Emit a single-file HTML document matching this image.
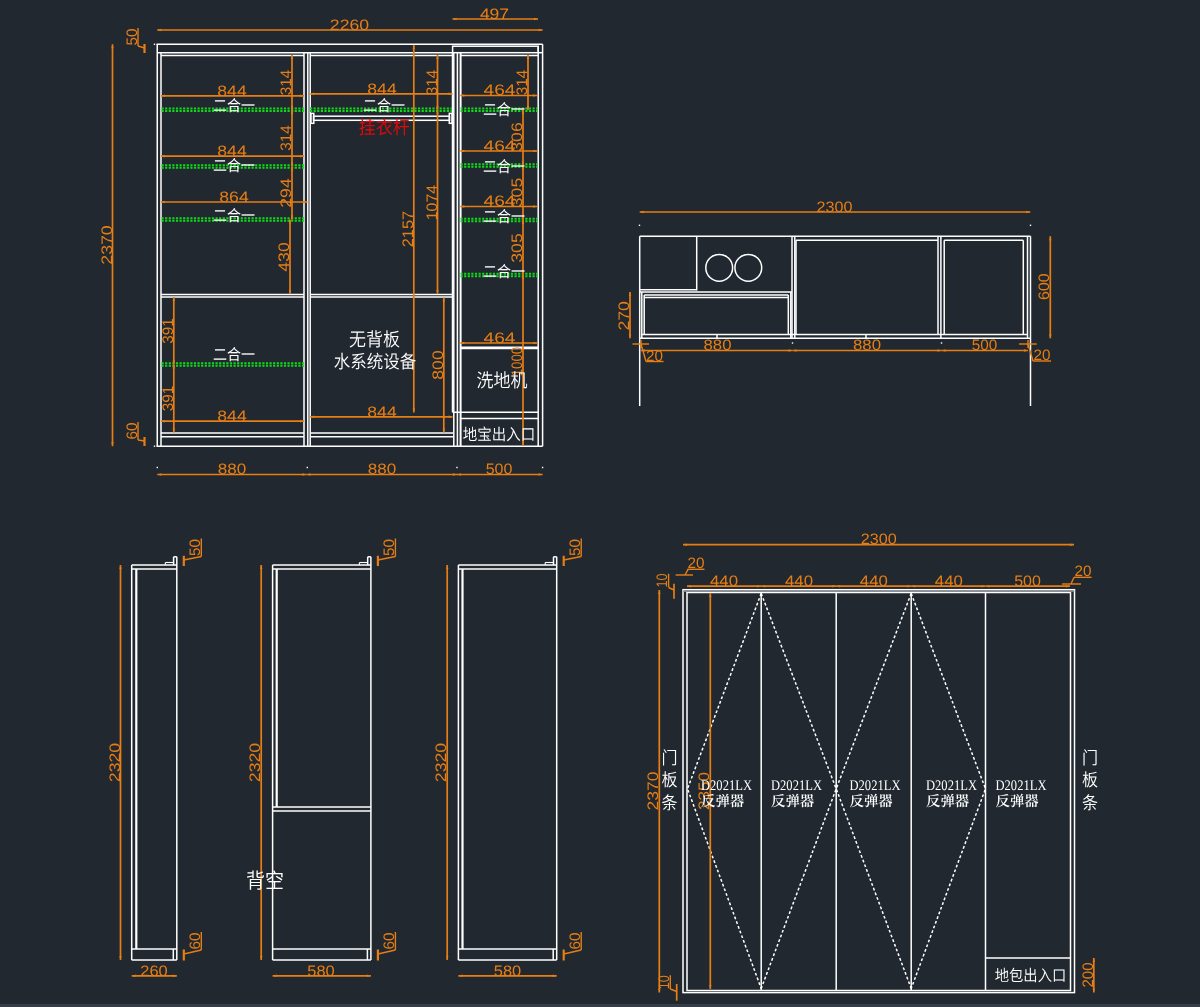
<!DOCTYPE html>
<html lang="zh">
<head>
<meta charset="utf-8">
<title>柜体图纸</title>
<style>
html,body{margin:0;padding:0;background:#212830;}
body{width:1200px;height:1007px;overflow:hidden;position:relative;}
svg{display:block;position:absolute;left:0;top:0;will-change:transform;}
.bar{position:absolute;left:0;top:1003.5px;width:1200px;height:3.5px;background:#353d49;}
text{white-space:pre;text-rendering:geometricPrecision;}
</style>
</head>
<body>
<svg width="1200" height="1007" viewBox="0 0 1200 1007">
<rect x="0" y="0" width="1200" height="1007" fill="#212830"/>
<line x1="156.5" y1="44.3" x2="542.6" y2="44.3" stroke="#ffffff" stroke-width="1.5"/>
<line x1="157.25" y1="44.3" x2="157.25" y2="446.2" stroke="#ffffff" stroke-width="1.5"/>
<line x1="157.25" y1="52.7" x2="452.6" y2="52.7" stroke="#ffffff" stroke-width="1.5"/>
<line x1="161" y1="55.4" x2="304" y2="55.4" stroke="#ffffff" stroke-width="1.5"/>
<line x1="310.2" y1="55.4" x2="452.6" y2="55.4" stroke="#ffffff" stroke-width="1.5"/>
<line x1="161" y1="52.7" x2="161" y2="446.2" stroke="#ffffff" stroke-width="1.5"/>
<line x1="304" y1="52.7" x2="304" y2="446.2" stroke="#ffffff" stroke-width="1.5"/>
<line x1="307.8" y1="52.7" x2="307.8" y2="446.2" stroke="#ffffff" stroke-width="1.5"/>
<line x1="310.2" y1="52.7" x2="310.2" y2="446.2" stroke="#ffffff" stroke-width="1.5"/>
<rect x="452.6" y="46.2" width="85.6" height="6.5" fill="none" stroke="#ffffff" stroke-width="1.5"/>
<line x1="542.6" y1="44.3" x2="542.6" y2="446.2" stroke="#ffffff" stroke-width="1.5"/>
<line x1="538.2" y1="46.2" x2="538.2" y2="446.2" stroke="#ffffff" stroke-width="1.5"/>
<line x1="460.4" y1="55.4" x2="538.2" y2="55.4" stroke="#ffffff" stroke-width="1.5"/>
<line x1="538.2" y1="52.7" x2="542.6" y2="52.7" stroke="#ffffff" stroke-width="1.5"/>
<line x1="452.5" y1="52.7" x2="452.5" y2="412.3" stroke="#ffffff" stroke-width="1.5"/>
<line x1="453.8" y1="52.7" x2="453.8" y2="446.2" stroke="#ffffff" stroke-width="1.5"/>
<line x1="457.4" y1="52.7" x2="457.4" y2="446.2" stroke="#ffffff" stroke-width="1.5"/>
<line x1="460.6" y1="52.7" x2="460.6" y2="446.2" stroke="#ffffff" stroke-width="2.0"/>
<line x1="161" y1="294.4" x2="304" y2="294.4" stroke="#ffffff" stroke-width="1.5"/>
<line x1="161" y1="297" x2="304" y2="297" stroke="#ffffff" stroke-width="1.5"/>
<line x1="310.2" y1="294.4" x2="452.6" y2="294.4" stroke="#ffffff" stroke-width="1.5"/>
<line x1="310.2" y1="297" x2="452.6" y2="297" stroke="#ffffff" stroke-width="1.5"/>
<line x1="161" y1="433" x2="304" y2="433" stroke="#ffffff" stroke-width="1.5"/>
<line x1="161" y1="436.8" x2="304" y2="436.8" stroke="#ffffff" stroke-width="1.5"/>
<line x1="310.2" y1="433" x2="453" y2="433" stroke="#ffffff" stroke-width="1.5"/>
<line x1="310.2" y1="436.8" x2="453" y2="436.8" stroke="#ffffff" stroke-width="1.5"/>
<line x1="156.5" y1="446.2" x2="542.6" y2="446.2" stroke="#ffffff" stroke-width="1.5"/>
<rect x="153.8" y="43.6" width="1.4" height="1.4" fill="#fff"/>
<rect x="153.8" y="445.5" width="1.4" height="1.4" fill="#fff"/>
<line x1="460.6" y1="347.2" x2="538.2" y2="347.2" stroke="#ffffff" stroke-width="1.5"/>
<line x1="460.6" y1="348.6" x2="538.2" y2="348.6" stroke="#ffffff" stroke-width="1.5"/>
<line x1="452.5" y1="412.3" x2="538.2" y2="412.3" stroke="#ffffff" stroke-width="1.5"/>
<line x1="460.6" y1="418.5" x2="538.2" y2="418.5" stroke="#ffffff" stroke-width="1.5"/>
<rect x="313.5" y="116.2" width="136.0" height="4.1" fill="none" stroke="#ffffff" stroke-width="1.5"/>
<rect x="311" y="113.4" width="2.8" height="9.9" fill="none" stroke="#ffffff" stroke-width="1.5"/>
<rect x="449.3" y="113.4" width="2.7" height="9.9" fill="none" stroke="#ffffff" stroke-width="1.5"/>
<line x1="161.5" y1="108.55" x2="304.5" y2="108.55" stroke="#10d818" stroke-width="1.9" stroke-dasharray="2.2 1.4"/>
<line x1="161.5" y1="111.05" x2="304.5" y2="111.05" stroke="#10d818" stroke-width="1.9" stroke-dasharray="2.2 1.4"/>
<line x1="161.5" y1="165.25" x2="304.5" y2="165.25" stroke="#10d818" stroke-width="1.9" stroke-dasharray="2.2 1.4"/>
<line x1="161.5" y1="167.75" x2="304.5" y2="167.75" stroke="#10d818" stroke-width="1.9" stroke-dasharray="2.2 1.4"/>
<line x1="161.5" y1="218.25" x2="304.5" y2="218.25" stroke="#10d818" stroke-width="1.9" stroke-dasharray="2.2 1.4"/>
<line x1="161.5" y1="220.75" x2="304.5" y2="220.75" stroke="#10d818" stroke-width="1.9" stroke-dasharray="2.2 1.4"/>
<line x1="161.5" y1="363.25" x2="304.5" y2="363.25" stroke="#10d818" stroke-width="1.9" stroke-dasharray="2.2 1.4"/>
<line x1="161.5" y1="365.75" x2="304.5" y2="365.75" stroke="#10d818" stroke-width="1.9" stroke-dasharray="2.2 1.4"/>
<line x1="310" y1="108.55" x2="452" y2="108.55" stroke="#10d818" stroke-width="1.9" stroke-dasharray="2.2 1.4"/>
<line x1="310" y1="111.05" x2="452" y2="111.05" stroke="#10d818" stroke-width="1.9" stroke-dasharray="2.2 1.4"/>
<line x1="460.5" y1="108.55" x2="537.3" y2="108.55" stroke="#10d818" stroke-width="1.9" stroke-dasharray="2.2 1.4"/>
<line x1="460.5" y1="111.05" x2="537.3" y2="111.05" stroke="#10d818" stroke-width="1.9" stroke-dasharray="2.2 1.4"/>
<line x1="460.5" y1="164.25" x2="537.3" y2="164.25" stroke="#10d818" stroke-width="1.9" stroke-dasharray="2.2 1.4"/>
<line x1="460.5" y1="166.75" x2="537.3" y2="166.75" stroke="#10d818" stroke-width="1.9" stroke-dasharray="2.2 1.4"/>
<line x1="460.5" y1="218.75" x2="537.3" y2="218.75" stroke="#10d818" stroke-width="1.9" stroke-dasharray="2.2 1.4"/>
<line x1="460.5" y1="221.25" x2="537.3" y2="221.25" stroke="#10d818" stroke-width="1.9" stroke-dasharray="2.2 1.4"/>
<line x1="460.5" y1="273.75" x2="537.3" y2="273.75" stroke="#10d818" stroke-width="1.9" stroke-dasharray="2.2 1.4"/>
<line x1="460.5" y1="276.25" x2="537.3" y2="276.25" stroke="#10d818" stroke-width="1.9" stroke-dasharray="2.2 1.4"/>
<line x1="157.3" y1="30" x2="542.6" y2="30" stroke="#e67e14" stroke-width="1.7"/>
<polygon points="157.3,30 161.3,28.8 161.3,31.2" fill="#e67e14"/>
<polygon points="542.6,30 538.6,31.2 538.6,28.8" fill="#e67e14"/>
<text x="349.5" y="29.7" font-family="Liberation Sans, sans-serif" font-size="15.2" fill="#e67e14" text-anchor="middle" textLength="39.3" lengthAdjust="spacingAndGlyphs">2260</text>
<line x1="452.5" y1="19" x2="538" y2="19" stroke="#e67e14" stroke-width="1.7"/>
<polygon points="452.5,19 456.5,17.8 456.5,20.2" fill="#e67e14"/>
<polygon points="538,19 534.0,20.2 534.0,17.8" fill="#e67e14"/>
<text x="494.5" y="18.7" font-family="Liberation Sans, sans-serif" font-size="15.2" fill="#e67e14" text-anchor="middle" textLength="29.2" lengthAdjust="spacingAndGlyphs">497</text>
<line x1="161" y1="95.8" x2="304" y2="95.8" stroke="#e67e14" stroke-width="1.7"/>
<polygon points="161,95.8 165.0,94.6 165.0,97.0" fill="#e67e14"/>
<polygon points="304,95.8 300.0,97.0 300.0,94.6" fill="#e67e14"/>
<text x="232" y="95.5" font-family="Liberation Sans, sans-serif" font-size="15.2" fill="#e67e14" text-anchor="middle" textLength="29.4" lengthAdjust="spacingAndGlyphs">844</text>
<line x1="161" y1="156.2" x2="304" y2="156.2" stroke="#e67e14" stroke-width="1.7"/>
<polygon points="161,156.2 165.0,155.0 165.0,157.4" fill="#e67e14"/>
<polygon points="304,156.2 300.0,157.4 300.0,155.0" fill="#e67e14"/>
<text x="232" y="155.89999999999998" font-family="Liberation Sans, sans-serif" font-size="15.2" fill="#e67e14" text-anchor="middle" textLength="29.4" lengthAdjust="spacingAndGlyphs">844</text>
<line x1="161" y1="421.2" x2="304" y2="421.2" stroke="#e67e14" stroke-width="1.7"/>
<polygon points="161,421.2 165.0,420.0 165.0,422.4" fill="#e67e14"/>
<polygon points="304,421.2 300.0,422.4 300.0,420.0" fill="#e67e14"/>
<text x="232" y="420.9" font-family="Liberation Sans, sans-serif" font-size="15.2" fill="#e67e14" text-anchor="middle" textLength="29.4" lengthAdjust="spacingAndGlyphs">844</text>
<line x1="161" y1="202" x2="307.5" y2="202" stroke="#e67e14" stroke-width="1.7"/>
<polygon points="161,202 165.0,200.8 165.0,203.2" fill="#e67e14"/>
<polygon points="307.5,202 303.5,203.2 303.5,200.8" fill="#e67e14"/>
<text x="234" y="201.7" font-family="Liberation Sans, sans-serif" font-size="15.2" fill="#e67e14" text-anchor="middle" textLength="29.4" lengthAdjust="spacingAndGlyphs">864</text>
<line x1="310.2" y1="93.8" x2="452.5" y2="93.8" stroke="#e67e14" stroke-width="1.7"/>
<polygon points="310.2,93.8 314.2,92.6 314.2,95.0" fill="#e67e14"/>
<polygon points="452.5,93.8 448.5,95.0 448.5,92.6" fill="#e67e14"/>
<text x="382" y="93.5" font-family="Liberation Sans, sans-serif" font-size="15.2" fill="#e67e14" text-anchor="middle" textLength="29.4" lengthAdjust="spacingAndGlyphs">844</text>
<line x1="310.2" y1="416.8" x2="452.5" y2="416.8" stroke="#e67e14" stroke-width="1.7"/>
<polygon points="310.2,416.8 314.2,415.6 314.2,418.0" fill="#e67e14"/>
<polygon points="452.5,416.8 448.5,418.0 448.5,415.6" fill="#e67e14"/>
<text x="382" y="416.5" font-family="Liberation Sans, sans-serif" font-size="15.2" fill="#e67e14" text-anchor="middle" textLength="29.4" lengthAdjust="spacingAndGlyphs">844</text>
<line x1="460.3" y1="95.5" x2="537.3" y2="95.5" stroke="#e67e14" stroke-width="1.7"/>
<polygon points="460.3,95.5 464.3,94.3 464.3,96.7" fill="#e67e14"/>
<polygon points="537.3,95.5 533.3,96.7 533.3,94.3" fill="#e67e14"/>
<text x="499.5" y="95.2" font-family="Liberation Sans, sans-serif" font-size="15.2" fill="#e67e14" text-anchor="middle" textLength="32" lengthAdjust="spacingAndGlyphs">464</text>
<line x1="460.3" y1="151" x2="537.3" y2="151" stroke="#e67e14" stroke-width="1.7"/>
<polygon points="460.3,151 464.3,149.8 464.3,152.2" fill="#e67e14"/>
<polygon points="537.3,151 533.3,152.2 533.3,149.8" fill="#e67e14"/>
<text x="499.5" y="150.7" font-family="Liberation Sans, sans-serif" font-size="15.2" fill="#e67e14" text-anchor="middle" textLength="32" lengthAdjust="spacingAndGlyphs">464</text>
<line x1="460.3" y1="206.5" x2="537.3" y2="206.5" stroke="#e67e14" stroke-width="1.7"/>
<polygon points="460.3,206.5 464.3,205.3 464.3,207.7" fill="#e67e14"/>
<polygon points="537.3,206.5 533.3,207.7 533.3,205.3" fill="#e67e14"/>
<text x="499.5" y="206.2" font-family="Liberation Sans, sans-serif" font-size="15.2" fill="#e67e14" text-anchor="middle" textLength="32" lengthAdjust="spacingAndGlyphs">464</text>
<line x1="460.3" y1="343" x2="537.3" y2="343" stroke="#e67e14" stroke-width="1.7"/>
<polygon points="460.3,343 464.3,341.8 464.3,344.2" fill="#e67e14"/>
<polygon points="537.3,343 533.3,344.2 533.3,341.8" fill="#e67e14"/>
<text x="499.5" y="342.7" font-family="Liberation Sans, sans-serif" font-size="15.2" fill="#e67e14" text-anchor="middle" textLength="32" lengthAdjust="spacingAndGlyphs">464</text>
<line x1="157.3" y1="474.5" x2="306.5" y2="474.5" stroke="#e67e14" stroke-width="1.7"/>
<polygon points="157.3,474.5 161.3,473.3 161.3,475.7" fill="#e67e14"/>
<polygon points="306.5,474.5 302.5,475.7 302.5,473.3" fill="#e67e14"/>
<text x="232" y="474.2" font-family="Liberation Sans, sans-serif" font-size="15.2" fill="#e67e14" text-anchor="middle" textLength="28.5" lengthAdjust="spacingAndGlyphs">880</text>
<line x1="306.5" y1="474.5" x2="457" y2="474.5" stroke="#e67e14" stroke-width="1.7"/>
<polygon points="306.5,474.5 310.5,473.3 310.5,475.7" fill="#e67e14"/>
<polygon points="457,474.5 453.0,475.7 453.0,473.3" fill="#e67e14"/>
<text x="382" y="474.2" font-family="Liberation Sans, sans-serif" font-size="15.2" fill="#e67e14" text-anchor="middle" textLength="28.5" lengthAdjust="spacingAndGlyphs">880</text>
<line x1="457" y1="474.5" x2="542.6" y2="474.5" stroke="#e67e14" stroke-width="1.7"/>
<polygon points="457,474.5 461.0,473.3 461.0,475.7" fill="#e67e14"/>
<polygon points="542.6,474.5 538.6,475.7 538.6,473.3" fill="#e67e14"/>
<text x="499" y="474.2" font-family="Liberation Sans, sans-serif" font-size="15.2" fill="#e67e14" text-anchor="middle" textLength="26.7" lengthAdjust="spacingAndGlyphs">500</text>
<rect x="156.60000000000002" y="466.8" width="1.4" height="1.4" fill="#fff"/>
<rect x="306.6" y="466.8" width="1.4" height="1.4" fill="#fff"/>
<rect x="456.3" y="466.8" width="1.4" height="1.4" fill="#fff"/>
<rect x="541.9" y="466.8" width="1.4" height="1.4" fill="#fff"/>
<line x1="112.5" y1="44.3" x2="112.5" y2="446.2" stroke="#e67e14" stroke-width="1.7"/>
<polygon points="112.5,44.3 113.7,48.3 111.3,48.3" fill="#e67e14"/>
<polygon points="112.5,446.2 111.3,442.2 113.7,442.2" fill="#e67e14"/>
<text x="111.5" y="245" font-family="Liberation Sans, sans-serif" font-size="15.2" fill="#e67e14" text-anchor="middle" textLength="39.4" lengthAdjust="spacingAndGlyphs" transform="rotate(-90 111.5 245)">2370</text>
<line x1="292" y1="55" x2="292" y2="110" stroke="#e67e14" stroke-width="1.7"/>
<polygon points="292,55 293.2,59.0 290.8,59.0" fill="#e67e14"/>
<polygon points="292,110 290.8,106.0 293.2,106.0" fill="#e67e14"/>
<text x="291.0" y="82.5" font-family="Liberation Sans, sans-serif" font-size="15.2" fill="#e67e14" text-anchor="middle" textLength="25.6" lengthAdjust="spacingAndGlyphs" transform="rotate(-90 291.0 82.5)">314</text>
<line x1="292" y1="110" x2="292" y2="166.5" stroke="#e67e14" stroke-width="1.7"/>
<polygon points="292,110 293.2,114.0 290.8,114.0" fill="#e67e14"/>
<polygon points="292,166.5 290.8,162.5 293.2,162.5" fill="#e67e14"/>
<text x="291.0" y="138" font-family="Liberation Sans, sans-serif" font-size="15.2" fill="#e67e14" text-anchor="middle" textLength="25.6" lengthAdjust="spacingAndGlyphs" transform="rotate(-90 291.0 138)">314</text>
<line x1="292" y1="166.5" x2="292" y2="219.5" stroke="#e67e14" stroke-width="1.7"/>
<polygon points="292,166.5 293.2,170.5 290.8,170.5" fill="#e67e14"/>
<polygon points="292,219.5 290.8,215.5 293.2,215.5" fill="#e67e14"/>
<text x="291.0" y="193" font-family="Liberation Sans, sans-serif" font-size="15.2" fill="#e67e14" text-anchor="middle" textLength="29.4" lengthAdjust="spacingAndGlyphs" transform="rotate(-90 291.0 193)">294</text>
<line x1="290" y1="219.5" x2="290" y2="294" stroke="#e67e14" stroke-width="1.7"/>
<polygon points="290,219.5 291.2,223.5 288.8,223.5" fill="#e67e14"/>
<polygon points="290,294 288.8,290.0 291.2,290.0" fill="#e67e14"/>
<text x="289.0" y="257" font-family="Liberation Sans, sans-serif" font-size="15.2" fill="#e67e14" text-anchor="middle" textLength="29.4" lengthAdjust="spacingAndGlyphs" transform="rotate(-90 289.0 257)">430</text>
<line x1="173.8" y1="297" x2="173.8" y2="364.5" stroke="#e67e14" stroke-width="1.7"/>
<polygon points="173.8,297 175.0,301.0 172.6,301.0" fill="#e67e14"/>
<polygon points="173.8,364.5 172.6,360.5 175.0,360.5" fill="#e67e14"/>
<text x="172.8" y="331" font-family="Liberation Sans, sans-serif" font-size="15.2" fill="#e67e14" text-anchor="middle" textLength="25.6" lengthAdjust="spacingAndGlyphs" transform="rotate(-90 172.8 331)">391</text>
<line x1="173.8" y1="364.5" x2="173.8" y2="432.5" stroke="#e67e14" stroke-width="1.7"/>
<polygon points="173.8,364.5 175.0,368.5 172.6,368.5" fill="#e67e14"/>
<polygon points="173.8,432.5 172.6,428.5 175.0,428.5" fill="#e67e14"/>
<text x="172.8" y="398.5" font-family="Liberation Sans, sans-serif" font-size="15.2" fill="#e67e14" text-anchor="middle" textLength="25.6" lengthAdjust="spacingAndGlyphs" transform="rotate(-90 172.8 398.5)">391</text>
<line x1="413.8" y1="45" x2="413.8" y2="412.5" stroke="#e67e14" stroke-width="1.7"/>
<polygon points="413.8,45 415.0,49.0 412.6,49.0" fill="#e67e14"/>
<polygon points="413.8,412.5 412.6,408.5 415.0,408.5" fill="#e67e14"/>
<text x="412.8" y="229" font-family="Liberation Sans, sans-serif" font-size="15.2" fill="#e67e14" text-anchor="middle" textLength="36.5" lengthAdjust="spacingAndGlyphs" transform="rotate(-90 412.8 229)">2157</text>
<line x1="437.5" y1="55" x2="437.5" y2="110" stroke="#e67e14" stroke-width="1.7"/>
<polygon points="437.5,55 438.7,59.0 436.3,59.0" fill="#e67e14"/>
<polygon points="437.5,110 436.3,106.0 438.7,106.0" fill="#e67e14"/>
<text x="436.5" y="82.5" font-family="Liberation Sans, sans-serif" font-size="15.2" fill="#e67e14" text-anchor="middle" textLength="25.6" lengthAdjust="spacingAndGlyphs" transform="rotate(-90 436.5 82.5)">314</text>
<line x1="437.5" y1="110" x2="437.5" y2="294" stroke="#e67e14" stroke-width="1.7"/>
<polygon points="437.5,110 438.7,114.0 436.3,114.0" fill="#e67e14"/>
<polygon points="437.5,294 436.3,290.0 438.7,290.0" fill="#e67e14"/>
<text x="436.5" y="202.5" font-family="Liberation Sans, sans-serif" font-size="15.2" fill="#e67e14" text-anchor="middle" textLength="35.5" lengthAdjust="spacingAndGlyphs" transform="rotate(-90 436.5 202.5)">1074</text>
<line x1="443.8" y1="297.5" x2="443.8" y2="432.5" stroke="#e67e14" stroke-width="1.7"/>
<polygon points="443.8,297.5 445.0,301.5 442.6,301.5" fill="#e67e14"/>
<polygon points="443.8,432.5 442.6,428.5 445.0,428.5" fill="#e67e14"/>
<text x="442.8" y="365" font-family="Liberation Sans, sans-serif" font-size="15.2" fill="#e67e14" text-anchor="middle" textLength="29.4" lengthAdjust="spacingAndGlyphs" transform="rotate(-90 442.8 365)">800</text>
<line x1="528" y1="55" x2="528" y2="110" stroke="#e67e14" stroke-width="1.7"/>
<polygon points="528,55 529.2,59.0 526.8,59.0" fill="#e67e14"/>
<polygon points="528,110 526.8,106.0 529.2,106.0" fill="#e67e14"/>
<text x="527.0" y="82.5" font-family="Liberation Sans, sans-serif" font-size="15.2" fill="#e67e14" text-anchor="middle" textLength="25.6" lengthAdjust="spacingAndGlyphs" transform="rotate(-90 527.0 82.5)">314</text>
<line x1="523" y1="110" x2="523" y2="165.5" stroke="#e67e14" stroke-width="1.7"/>
<polygon points="523,110 524.2,114.0 521.8,114.0" fill="#e67e14"/>
<polygon points="523,165.5 521.8,161.5 524.2,161.5" fill="#e67e14"/>
<text x="522.0" y="137" font-family="Liberation Sans, sans-serif" font-size="15.2" fill="#e67e14" text-anchor="middle" textLength="29.4" lengthAdjust="spacingAndGlyphs" transform="rotate(-90 522.0 137)">306</text>
<line x1="523" y1="165.5" x2="523" y2="220" stroke="#e67e14" stroke-width="1.7"/>
<polygon points="523,165.5 524.2,169.5 521.8,169.5" fill="#e67e14"/>
<polygon points="523,220 521.8,216.0 524.2,216.0" fill="#e67e14"/>
<text x="522.0" y="192.5" font-family="Liberation Sans, sans-serif" font-size="15.2" fill="#e67e14" text-anchor="middle" textLength="29.4" lengthAdjust="spacingAndGlyphs" transform="rotate(-90 522.0 192.5)">305</text>
<line x1="523" y1="220" x2="523" y2="275" stroke="#e67e14" stroke-width="1.7"/>
<polygon points="523,220 524.2,224.0 521.8,224.0" fill="#e67e14"/>
<polygon points="523,275 521.8,271.0 524.2,271.0" fill="#e67e14"/>
<text x="522.0" y="248" font-family="Liberation Sans, sans-serif" font-size="15.2" fill="#e67e14" text-anchor="middle" textLength="29.4" lengthAdjust="spacingAndGlyphs" transform="rotate(-90 522.0 248)">305</text>
<line x1="523" y1="275" x2="523" y2="445.8" stroke="#e67e14" stroke-width="1.7"/>
<polygon points="523,275 524.2,279.0 521.8,279.0" fill="#e67e14"/>
<polygon points="523,445.8 521.8,441.8 524.2,441.8" fill="#e67e14"/>
<text x="522.0" y="361.5" font-family="Liberation Sans, sans-serif" font-size="15.2" fill="#e67e14" text-anchor="middle" textLength="29.5" lengthAdjust="spacingAndGlyphs" transform="rotate(-90 522.0 361.5)">1000</text>
<text x="136.5" y="37" font-family="Liberation Sans, sans-serif" font-size="15.2" fill="#e67e14" text-anchor="middle" textLength="17" lengthAdjust="spacingAndGlyphs" transform="rotate(-90 136.5 37)">50</text>
<line x1="138.0" y1="28" x2="138.0" y2="46" stroke="#e67e14" stroke-width="1.4"/>
<line x1="138.0" y1="46" x2="144.5" y2="48" stroke="#e67e14" stroke-width="1.4"/>
<line x1="144.5" y1="44" x2="144.5" y2="53" stroke="#e67e14" stroke-width="2.2"/>
<text x="136.5" y="431" font-family="Liberation Sans, sans-serif" font-size="15.2" fill="#e67e14" text-anchor="middle" textLength="17" lengthAdjust="spacingAndGlyphs" transform="rotate(-90 136.5 431)">60</text>
<line x1="138.0" y1="422" x2="138.0" y2="440" stroke="#e67e14" stroke-width="1.4"/>
<line x1="138.0" y1="440" x2="144.5" y2="441" stroke="#e67e14" stroke-width="1.4"/>
<line x1="144.5" y1="437" x2="144.5" y2="446" stroke="#e67e14" stroke-width="2.2"/>
<text x="234" y="111" font-family="Liberation Sans, Noto Sans CJK SC, sans-serif" font-size="14" fill="#ffffff" text-anchor="middle" font-weight="400" transform="matrix(1 0 0 1.1 0 -11.1)">二合一</text>
<text x="234" y="171" font-family="Liberation Sans, Noto Sans CJK SC, sans-serif" font-size="14" fill="#ffffff" text-anchor="middle" font-weight="400" transform="matrix(1 0 0 1.1 0 -17.1)">二合一</text>
<text x="234" y="221" font-family="Liberation Sans, Noto Sans CJK SC, sans-serif" font-size="14" fill="#ffffff" text-anchor="middle" font-weight="400" transform="matrix(1 0 0 1.1 0 -22.1)">二合一</text>
<text x="234" y="359.7" font-family="Liberation Sans, Noto Sans CJK SC, sans-serif" font-size="14" fill="#ffffff" text-anchor="middle" font-weight="400" transform="matrix(1 0 0 1.1 0 -35.97)">二合一</text>
<text x="384" y="111" font-family="Liberation Sans, Noto Sans CJK SC, sans-serif" font-size="14" fill="#ffffff" text-anchor="middle" font-weight="400" transform="matrix(1 0 0 1.1 0 -11.1)">二合一</text>
<text x="504" y="115" font-family="Liberation Sans, Noto Sans CJK SC, sans-serif" font-size="14" fill="#ffffff" text-anchor="middle" font-weight="400" transform="matrix(1 0 0 1.1 0 -11.5)">二合一</text>
<text x="504" y="172" font-family="Liberation Sans, Noto Sans CJK SC, sans-serif" font-size="14" fill="#ffffff" text-anchor="middle" font-weight="400" transform="matrix(1 0 0 1.1 0 -17.2)">二合一</text>
<text x="504" y="222" font-family="Liberation Sans, Noto Sans CJK SC, sans-serif" font-size="14" fill="#ffffff" text-anchor="middle" font-weight="400" transform="matrix(1 0 0 1.1 0 -22.2)">二合一</text>
<text x="504" y="277" font-family="Liberation Sans, Noto Sans CJK SC, sans-serif" font-size="14" fill="#ffffff" text-anchor="middle" font-weight="400" transform="matrix(1 0 0 1.1 0 -27.7)">二合一</text>
<text x="384.3" y="134.2" font-family="Liberation Sans, Noto Sans CJK SC, sans-serif" font-size="17" fill="#de0a0a" text-anchor="middle" font-weight="400" transform="matrix(1 0 0 1.1 0 -13.42)">挂衣杆</text>
<text x="374.5" y="346" font-family="Liberation Sans, Noto Sans CJK SC, sans-serif" font-size="17" fill="#ffffff" text-anchor="middle" font-weight="350" transform="matrix(1 0 0 1.1 0 -34.6)">无背板</text>
<text x="375" y="367.5" font-family="Liberation Sans, Noto Sans CJK SC, sans-serif" font-size="16.5" fill="#ffffff" text-anchor="middle" font-weight="350" transform="matrix(1 0 0 1.1 0 -36.75)">水系统设备</text>
<text x="502" y="387" font-family="Liberation Sans, Noto Sans CJK SC, sans-serif" font-size="17" fill="#ffffff" text-anchor="middle" font-weight="350" transform="matrix(1 0 0 1.1 0 -38.7)">洗地机</text>
<text x="499" y="439.5" font-family="Liberation Sans, Noto Sans CJK SC, sans-serif" font-size="14.5" fill="#ffffff" text-anchor="middle" font-weight="350" transform="matrix(1 0 0 1.1 0 -43.95)">地宝出入口</text>
<line x1="639.7" y1="212" x2="1030.3" y2="212" stroke="#e67e14" stroke-width="1.7"/>
<polygon points="639.7,212 643.7,210.8 643.7,213.2" fill="#e67e14"/>
<polygon points="1030.3,212 1026.3,213.2 1026.3,210.8" fill="#e67e14"/>
<text x="834.5" y="211.7" font-family="Liberation Sans, sans-serif" font-size="15.2" fill="#e67e14" text-anchor="middle" textLength="36" lengthAdjust="spacingAndGlyphs">2300</text>
<rect x="638.8" y="224.60000000000002" width="1.4" height="1.4" fill="#fff"/>
<rect x="1029.8" y="224.60000000000002" width="1.4" height="1.4" fill="#fff"/>
<rect x="791.8" y="342.3" width="1.4" height="1.4" fill="#fff"/>
<rect x="940.8" y="342.3" width="1.4" height="1.4" fill="#fff"/>
<line x1="639.7" y1="236.2" x2="1030.5" y2="236.2" stroke="#ffffff" stroke-width="1.5"/>
<line x1="639.7" y1="236.2" x2="639.7" y2="406" stroke="#ffffff" stroke-width="1.5"/>
<line x1="1030.5" y1="236.2" x2="1030.5" y2="406" stroke="#ffffff" stroke-width="1.5"/>
<line x1="696.7" y1="236.2" x2="696.7" y2="290.5" stroke="#ffffff" stroke-width="1.5"/>
<line x1="639.7" y1="289.8" x2="696.7" y2="289.8" stroke="#ffffff" stroke-width="1.5"/>
<line x1="639.7" y1="292" x2="792" y2="292" stroke="#ffffff" stroke-width="1.5"/>
<circle cx="719.2" cy="267.8" r="13.4" fill="none" stroke="#fff" stroke-width="1.5"/>
<circle cx="748.3" cy="267.8" r="13.4" fill="none" stroke="#fff" stroke-width="1.5"/>
<line x1="792" y1="236.2" x2="792" y2="338.3" stroke="#ffffff" stroke-width="1.5"/>
<line x1="794.8" y1="236.2" x2="794.8" y2="338.3" stroke="#ffffff" stroke-width="1.5"/>
<line x1="796" y1="240.3" x2="796" y2="334.5" stroke="#ffffff" stroke-width="1.5"/>
<line x1="641.8" y1="292" x2="641.8" y2="338.3" stroke="#ffffff" stroke-width="1.5"/>
<line x1="644.2" y1="295" x2="644.2" y2="334.3" stroke="#ffffff" stroke-width="1.5"/>
<line x1="788.3" y1="295" x2="788.3" y2="334.3" stroke="#ffffff" stroke-width="1.5"/>
<line x1="790.8" y1="292" x2="790.8" y2="338.3" stroke="#ffffff" stroke-width="1.5"/>
<line x1="644.2" y1="295" x2="788.3" y2="295" stroke="#ffffff" stroke-width="1.5"/>
<line x1="644.2" y1="297.5" x2="788.3" y2="297.5" stroke="#ffffff" stroke-width="1.5"/>
<line x1="641.8" y1="334.4" x2="1027.5" y2="334.4" stroke="#ffffff" stroke-width="1.5"/>
<line x1="639.7" y1="338.3" x2="1030.5" y2="338.3" stroke="#ffffff" stroke-width="1.5"/>
<line x1="717" y1="334.4" x2="717" y2="338.3" stroke="#ffffff" stroke-width="1.5"/>
<line x1="866" y1="334.4" x2="866" y2="338.3" stroke="#ffffff" stroke-width="1.5"/>
<line x1="796" y1="240.3" x2="938" y2="240.3" stroke="#ffffff" stroke-width="1.5"/>
<line x1="944.2" y1="240.3" x2="1023.3" y2="240.3" stroke="#ffffff" stroke-width="1.5"/>
<line x1="938" y1="236.2" x2="938" y2="334.4" stroke="#ffffff" stroke-width="1.5"/>
<line x1="940.9" y1="236.2" x2="940.9" y2="338.3" stroke="#ffffff" stroke-width="1.5"/>
<line x1="944.2" y1="240.3" x2="944.2" y2="334.4" stroke="#ffffff" stroke-width="1.5"/>
<line x1="1023.3" y1="240.3" x2="1023.3" y2="334.4" stroke="#ffffff" stroke-width="1.5"/>
<line x1="1027.5" y1="236.2" x2="1027.5" y2="338.3" stroke="#ffffff" stroke-width="1.5"/>
<line x1="630" y1="292" x2="630" y2="338.3" stroke="#e67e14" stroke-width="1.7"/>
<polygon points="630,292 631.2,296.0 628.8,296.0" fill="#e67e14"/>
<polygon points="630,338.3 628.8,334.3 631.2,334.3" fill="#e67e14"/>
<text x="629.0" y="315.8" font-family="Liberation Sans, sans-serif" font-size="15.2" fill="#e67e14" text-anchor="middle" textLength="29.5" lengthAdjust="spacingAndGlyphs" transform="rotate(-90 629.0 315.8)">270</text>
<line x1="1050.3" y1="236.2" x2="1050.3" y2="338.3" stroke="#e67e14" stroke-width="1.7"/>
<polygon points="1050.3,236.2 1051.5,240.2 1049.1,240.2" fill="#e67e14"/>
<polygon points="1050.3,338.3 1049.1,334.3 1051.5,334.3" fill="#e67e14"/>
<text x="1049.3" y="286.7" font-family="Liberation Sans, sans-serif" font-size="15.2" fill="#e67e14" text-anchor="middle" textLength="26.5" lengthAdjust="spacingAndGlyphs" transform="rotate(-90 1049.3 286.7)">600</text>
<line x1="641" y1="350.5" x2="792.5" y2="350.5" stroke="#e67e14" stroke-width="1.7"/>
<polygon points="641,350.5 645.0,349.3 645.0,351.7" fill="#e67e14"/>
<polygon points="792.5,350.5 788.5,351.7 788.5,349.3" fill="#e67e14"/>
<text x="717.5" y="350.2" font-family="Liberation Sans, sans-serif" font-size="15.2" fill="#e67e14" text-anchor="middle" textLength="28" lengthAdjust="spacingAndGlyphs">880</text>
<line x1="792.5" y1="350.5" x2="941.5" y2="350.5" stroke="#e67e14" stroke-width="1.7"/>
<polygon points="792.5,350.5 796.5,349.3 796.5,351.7" fill="#e67e14"/>
<polygon points="941.5,350.5 937.5,351.7 937.5,349.3" fill="#e67e14"/>
<text x="867" y="350.2" font-family="Liberation Sans, sans-serif" font-size="15.2" fill="#e67e14" text-anchor="middle" textLength="28" lengthAdjust="spacingAndGlyphs">880</text>
<line x1="941.5" y1="350.5" x2="1028" y2="350.5" stroke="#e67e14" stroke-width="1.7"/>
<polygon points="941.5,350.5 945.5,349.3 945.5,351.7" fill="#e67e14"/>
<polygon points="1028,350.5 1024.0,351.7 1024.0,349.3" fill="#e67e14"/>
<text x="984.5" y="350.2" font-family="Liberation Sans, sans-serif" font-size="15.2" fill="#e67e14" text-anchor="middle" textLength="25.5" lengthAdjust="spacingAndGlyphs">500</text>
<text x="654.5" y="360.5" font-family="Liberation Sans, sans-serif" font-size="15.2" fill="#e67e14" text-anchor="middle" textLength="17" lengthAdjust="spacingAndGlyphs">20</text>
<line x1="646" y1="361.5" x2="663.5" y2="361.5" stroke="#e67e14" stroke-width="1.4"/>
<line x1="632.5" y1="344" x2="649" y2="344" stroke="#e67e14" stroke-width="1.4"/>
<line x1="641" y1="344" x2="646" y2="361.5" stroke="#e67e14" stroke-width="1.4"/>
<line x1="641" y1="340" x2="641" y2="348" stroke="#e67e14" stroke-width="1.4"/>
<text x="1042" y="360" font-family="Liberation Sans, sans-serif" font-size="15.2" fill="#e67e14" text-anchor="middle" textLength="17" lengthAdjust="spacingAndGlyphs">20</text>
<line x1="1033" y1="361" x2="1051" y2="361" stroke="#e67e14" stroke-width="1.4"/>
<line x1="1019" y1="344" x2="1036.7" y2="344" stroke="#e67e14" stroke-width="1.4"/>
<line x1="1028" y1="344" x2="1033" y2="361" stroke="#e67e14" stroke-width="1.4"/>
<line x1="1028" y1="340" x2="1028" y2="348" stroke="#e67e14" stroke-width="1.4"/>
<line x1="131.7" y1="565" x2="176.8" y2="565" stroke="#ffffff" stroke-width="1.5"/>
<line x1="131.7" y1="569" x2="176.8" y2="569" stroke="#ffffff" stroke-width="1.5"/>
<line x1="131.7" y1="565" x2="131.7" y2="960" stroke="#ffffff" stroke-width="1.5"/>
<line x1="136.3" y1="569" x2="136.3" y2="949" stroke="#ffffff" stroke-width="2.2"/>
<line x1="176.8" y1="556.8" x2="176.8" y2="960" stroke="#ffffff" stroke-width="1.5"/>
<line x1="165.3" y1="562.5" x2="173.60000000000002" y2="562.5" stroke="#ffffff" stroke-width="1.1"/>
<line x1="165.3" y1="562.5" x2="165.3" y2="565" stroke="#ffffff" stroke-width="1.1"/>
<line x1="173.60000000000002" y1="556.8" x2="173.60000000000002" y2="565" stroke="#ffffff" stroke-width="1.5"/>
<line x1="173.60000000000002" y1="556.8" x2="176.8" y2="556.8" stroke="#ffffff" stroke-width="1.5"/>
<line x1="131.7" y1="949" x2="176.8" y2="949" stroke="#ffffff" stroke-width="1.5"/>
<line x1="131.7" y1="960" x2="176.8" y2="960" stroke="#ffffff" stroke-width="1.5"/>
<line x1="173.3" y1="949" x2="173.3" y2="960" stroke="#ffffff" stroke-width="1.5"/>
<line x1="120.5" y1="565" x2="120.5" y2="960" stroke="#e67e14" stroke-width="1.7"/>
<polygon points="120.5,565 121.7,569.0 119.3,569.0" fill="#e67e14"/>
<polygon points="120.5,960 119.3,956.0 121.7,956.0" fill="#e67e14"/>
<text x="119.5" y="762.5" font-family="Liberation Sans, sans-serif" font-size="15.2" fill="#e67e14" text-anchor="middle" textLength="39.3" lengthAdjust="spacingAndGlyphs" transform="rotate(-90 119.5 762.5)">2320</text>
<line x1="131.7" y1="975.8" x2="176.8" y2="975.8" stroke="#e67e14" stroke-width="1.7"/>
<polygon points="131.7,975.8 135.7,974.6 135.7,977.0" fill="#e67e14"/>
<polygon points="176.8,975.8 172.8,977.0 172.8,974.6" fill="#e67e14"/>
<text x="154" y="975.5" font-family="Liberation Sans, sans-serif" font-size="15.2" fill="#e67e14" text-anchor="middle" textLength="27.5" lengthAdjust="spacingAndGlyphs">260</text>
<text x="199.8" y="547.5" font-family="Liberation Sans, sans-serif" font-size="15.2" fill="#e67e14" text-anchor="middle" textLength="17" lengthAdjust="spacingAndGlyphs" transform="rotate(-90 199.8 547.5)">50</text>
<line x1="201.3" y1="538.5" x2="201.3" y2="556.5" stroke="#e67e14" stroke-width="1.4"/>
<line x1="201.3" y1="556.5" x2="183.8" y2="560" stroke="#e67e14" stroke-width="1.4"/>
<line x1="183.8" y1="555.8" x2="183.8" y2="566" stroke="#e67e14" stroke-width="2.2"/>
<text x="199.8" y="941" font-family="Liberation Sans, sans-serif" font-size="15.2" fill="#e67e14" text-anchor="middle" textLength="17" lengthAdjust="spacingAndGlyphs" transform="rotate(-90 199.8 941)">60</text>
<line x1="201.3" y1="932" x2="201.3" y2="950" stroke="#e67e14" stroke-width="1.4"/>
<line x1="201.3" y1="950" x2="183.8" y2="954" stroke="#e67e14" stroke-width="1.4"/>
<line x1="183.8" y1="949.5" x2="183.8" y2="960.5" stroke="#e67e14" stroke-width="2.2"/>
<line x1="272.6" y1="565" x2="370.9" y2="565" stroke="#ffffff" stroke-width="1.5"/>
<line x1="272.6" y1="569" x2="370.9" y2="569" stroke="#ffffff" stroke-width="1.5"/>
<line x1="272.6" y1="565" x2="272.6" y2="960" stroke="#ffffff" stroke-width="1.5"/>
<line x1="276.7" y1="569" x2="276.7" y2="807" stroke="#ffffff" stroke-width="2.2"/>
<line x1="370.9" y1="556.8" x2="370.9" y2="960" stroke="#ffffff" stroke-width="1.5"/>
<line x1="359.4" y1="562.5" x2="367.7" y2="562.5" stroke="#ffffff" stroke-width="1.1"/>
<line x1="359.4" y1="562.5" x2="359.4" y2="565" stroke="#ffffff" stroke-width="1.1"/>
<line x1="367.7" y1="556.8" x2="367.7" y2="565" stroke="#ffffff" stroke-width="1.5"/>
<line x1="367.7" y1="556.8" x2="370.9" y2="556.8" stroke="#ffffff" stroke-width="1.5"/>
<line x1="272.6" y1="949" x2="370.9" y2="949" stroke="#ffffff" stroke-width="1.5"/>
<line x1="272.6" y1="960" x2="370.9" y2="960" stroke="#ffffff" stroke-width="1.5"/>
<line x1="367.4" y1="949" x2="367.4" y2="960" stroke="#ffffff" stroke-width="1.5"/>
<line x1="272.6" y1="807" x2="370.9" y2="807" stroke="#ffffff" stroke-width="1.5"/>
<line x1="272.6" y1="811" x2="370.9" y2="811" stroke="#ffffff" stroke-width="1.5"/>
<line x1="261.2" y1="565" x2="261.2" y2="960" stroke="#e67e14" stroke-width="1.7"/>
<polygon points="261.2,565 262.4,569.0 260.0,569.0" fill="#e67e14"/>
<polygon points="261.2,960 260.0,956.0 262.4,956.0" fill="#e67e14"/>
<text x="260.2" y="762.5" font-family="Liberation Sans, sans-serif" font-size="15.2" fill="#e67e14" text-anchor="middle" textLength="39.3" lengthAdjust="spacingAndGlyphs" transform="rotate(-90 260.2 762.5)">2320</text>
<line x1="272.6" y1="975.8" x2="370.9" y2="975.8" stroke="#e67e14" stroke-width="1.7"/>
<polygon points="272.6,975.8 276.6,974.6 276.6,977.0" fill="#e67e14"/>
<polygon points="370.9,975.8 366.9,977.0 366.9,974.6" fill="#e67e14"/>
<text x="321" y="975.5" font-family="Liberation Sans, sans-serif" font-size="15.2" fill="#e67e14" text-anchor="middle" textLength="27.5" lengthAdjust="spacingAndGlyphs">580</text>
<text x="393.9" y="547.5" font-family="Liberation Sans, sans-serif" font-size="15.2" fill="#e67e14" text-anchor="middle" textLength="17" lengthAdjust="spacingAndGlyphs" transform="rotate(-90 393.9 547.5)">50</text>
<line x1="395.4" y1="538.5" x2="395.4" y2="556.5" stroke="#e67e14" stroke-width="1.4"/>
<line x1="395.4" y1="556.5" x2="377.9" y2="560" stroke="#e67e14" stroke-width="1.4"/>
<line x1="377.9" y1="555.8" x2="377.9" y2="566" stroke="#e67e14" stroke-width="2.2"/>
<text x="393.9" y="941" font-family="Liberation Sans, sans-serif" font-size="15.2" fill="#e67e14" text-anchor="middle" textLength="17" lengthAdjust="spacingAndGlyphs" transform="rotate(-90 393.9 941)">60</text>
<line x1="395.4" y1="932" x2="395.4" y2="950" stroke="#e67e14" stroke-width="1.4"/>
<line x1="395.4" y1="950" x2="377.9" y2="954" stroke="#e67e14" stroke-width="1.4"/>
<line x1="377.9" y1="949.5" x2="377.9" y2="960.5" stroke="#e67e14" stroke-width="2.2"/>
<line x1="458.4" y1="565" x2="556.7" y2="565" stroke="#ffffff" stroke-width="1.5"/>
<line x1="458.4" y1="569" x2="556.7" y2="569" stroke="#ffffff" stroke-width="1.5"/>
<line x1="458.4" y1="565" x2="458.4" y2="960" stroke="#ffffff" stroke-width="1.5"/>
<line x1="462.5" y1="569" x2="462.5" y2="949" stroke="#ffffff" stroke-width="2.2"/>
<line x1="556.7" y1="556.8" x2="556.7" y2="960" stroke="#ffffff" stroke-width="1.5"/>
<line x1="545.2" y1="562.5" x2="553.5" y2="562.5" stroke="#ffffff" stroke-width="1.1"/>
<line x1="545.2" y1="562.5" x2="545.2" y2="565" stroke="#ffffff" stroke-width="1.1"/>
<line x1="553.5" y1="556.8" x2="553.5" y2="565" stroke="#ffffff" stroke-width="1.5"/>
<line x1="553.5" y1="556.8" x2="556.7" y2="556.8" stroke="#ffffff" stroke-width="1.5"/>
<line x1="458.4" y1="949" x2="556.7" y2="949" stroke="#ffffff" stroke-width="1.5"/>
<line x1="458.4" y1="960" x2="556.7" y2="960" stroke="#ffffff" stroke-width="1.5"/>
<line x1="553.2" y1="949" x2="553.2" y2="960" stroke="#ffffff" stroke-width="1.5"/>
<line x1="447.2" y1="565" x2="447.2" y2="960" stroke="#e67e14" stroke-width="1.7"/>
<polygon points="447.2,565 448.4,569.0 446.0,569.0" fill="#e67e14"/>
<polygon points="447.2,960 446.0,956.0 448.4,956.0" fill="#e67e14"/>
<text x="446.2" y="762.5" font-family="Liberation Sans, sans-serif" font-size="15.2" fill="#e67e14" text-anchor="middle" textLength="39.3" lengthAdjust="spacingAndGlyphs" transform="rotate(-90 446.2 762.5)">2320</text>
<line x1="458.4" y1="975.8" x2="556.7" y2="975.8" stroke="#e67e14" stroke-width="1.7"/>
<polygon points="458.4,975.8 462.4,974.6 462.4,977.0" fill="#e67e14"/>
<polygon points="556.7,975.8 552.7,977.0 552.7,974.6" fill="#e67e14"/>
<text x="507.5" y="975.5" font-family="Liberation Sans, sans-serif" font-size="15.2" fill="#e67e14" text-anchor="middle" textLength="27.5" lengthAdjust="spacingAndGlyphs">580</text>
<text x="579.7" y="547.5" font-family="Liberation Sans, sans-serif" font-size="15.2" fill="#e67e14" text-anchor="middle" textLength="17" lengthAdjust="spacingAndGlyphs" transform="rotate(-90 579.7 547.5)">50</text>
<line x1="581.2" y1="538.5" x2="581.2" y2="556.5" stroke="#e67e14" stroke-width="1.4"/>
<line x1="581.2" y1="556.5" x2="563.7" y2="560" stroke="#e67e14" stroke-width="1.4"/>
<line x1="563.7" y1="555.8" x2="563.7" y2="566" stroke="#e67e14" stroke-width="2.2"/>
<text x="579.7" y="941" font-family="Liberation Sans, sans-serif" font-size="15.2" fill="#e67e14" text-anchor="middle" textLength="17" lengthAdjust="spacingAndGlyphs" transform="rotate(-90 579.7 941)">60</text>
<line x1="581.2" y1="932" x2="581.2" y2="950" stroke="#e67e14" stroke-width="1.4"/>
<line x1="581.2" y1="950" x2="563.7" y2="954" stroke="#e67e14" stroke-width="1.4"/>
<line x1="563.7" y1="949.5" x2="563.7" y2="960.5" stroke="#e67e14" stroke-width="2.2"/>
<text x="265" y="887.5" font-family="Liberation Sans, Noto Sans CJK SC, sans-serif" font-size="19" fill="#ffffff" text-anchor="middle" font-weight="350" transform="matrix(1 0 0 1.1 0 -88.75)">背空</text>
<line x1="683" y1="544.7" x2="1074" y2="544.7" stroke="#e67e14" stroke-width="1.7"/>
<polygon points="683,544.7 687.0,543.5 687.0,545.9" fill="#e67e14"/>
<polygon points="1074,544.7 1070.0,545.9 1070.0,543.5" fill="#e67e14"/>
<text x="878.8" y="544.4000000000001" font-family="Liberation Sans, sans-serif" font-size="15.2" fill="#e67e14" text-anchor="middle" textLength="36" lengthAdjust="spacingAndGlyphs">2300</text>
<rect x="683" y="589.7" width="391.5" height="402.9" fill="none" stroke="#ffffff" stroke-width="1.5"/>
<rect x="687" y="592.5" width="383.5" height="398.0" fill="none" stroke="#ffffff" stroke-width="1.5"/>
<line x1="683" y1="591.1" x2="1074.5" y2="591.1" stroke="#9aa0a6" stroke-width="1.2"/>
<line x1="761.2" y1="592.5" x2="761.2" y2="990" stroke="#ffffff" stroke-width="1.5"/>
<line x1="836.2" y1="592.5" x2="836.2" y2="990" stroke="#ffffff" stroke-width="1.5"/>
<line x1="911.2" y1="592.5" x2="911.2" y2="990" stroke="#ffffff" stroke-width="1.5"/>
<line x1="985.5" y1="592.5" x2="985.5" y2="990" stroke="#ffffff" stroke-width="1.5"/>
<line x1="985.5" y1="958" x2="1070" y2="958" stroke="#ffffff" stroke-width="1.5"/>
<polyline points="761.2,593.5 687.5,788.8 761.2,988.5" fill="none" stroke="#ffffff" stroke-width="1.5" stroke-dasharray="2.8 2.2"/>
<polyline points="761.2,593.5 836.2,788.8 761.2,988.5" fill="none" stroke="#ffffff" stroke-width="1.5" stroke-dasharray="2.8 2.2"/>
<polyline points="911.2,593.5 836.2,788.8 911.2,988.5" fill="none" stroke="#ffffff" stroke-width="1.5" stroke-dasharray="2.8 2.2"/>
<polyline points="911.2,593.5 985.5,788.8 911.2,988.5" fill="none" stroke="#ffffff" stroke-width="1.5" stroke-dasharray="2.8 2.2"/>
<line x1="687" y1="586.2" x2="761.2" y2="586.2" stroke="#e67e14" stroke-width="1.7"/>
<polygon points="687,586.2 691.0,585.0 691.0,587.4" fill="#e67e14"/>
<polygon points="761.2,586.2 757.2,587.4 757.2,585.0" fill="#e67e14"/>
<text x="724" y="585.9000000000001" font-family="Liberation Sans, sans-serif" font-size="15.2" fill="#e67e14" text-anchor="middle" textLength="28" lengthAdjust="spacingAndGlyphs">440</text>
<line x1="761.2" y1="586.2" x2="836.2" y2="586.2" stroke="#e67e14" stroke-width="1.7"/>
<polygon points="761.2,586.2 765.2,585.0 765.2,587.4" fill="#e67e14"/>
<polygon points="836.2,586.2 832.2,587.4 832.2,585.0" fill="#e67e14"/>
<text x="799" y="585.9000000000001" font-family="Liberation Sans, sans-serif" font-size="15.2" fill="#e67e14" text-anchor="middle" textLength="28" lengthAdjust="spacingAndGlyphs">440</text>
<line x1="836.2" y1="586.2" x2="911.2" y2="586.2" stroke="#e67e14" stroke-width="1.7"/>
<polygon points="836.2,586.2 840.2,585.0 840.2,587.4" fill="#e67e14"/>
<polygon points="911.2,586.2 907.2,587.4 907.2,585.0" fill="#e67e14"/>
<text x="873.8" y="585.9000000000001" font-family="Liberation Sans, sans-serif" font-size="15.2" fill="#e67e14" text-anchor="middle" textLength="28" lengthAdjust="spacingAndGlyphs">440</text>
<line x1="911.2" y1="586.2" x2="985.5" y2="586.2" stroke="#e67e14" stroke-width="1.7"/>
<polygon points="911.2,586.2 915.2,585.0 915.2,587.4" fill="#e67e14"/>
<polygon points="985.5,586.2 981.5,587.4 981.5,585.0" fill="#e67e14"/>
<text x="948.8" y="585.9000000000001" font-family="Liberation Sans, sans-serif" font-size="15.2" fill="#e67e14" text-anchor="middle" textLength="28" lengthAdjust="spacingAndGlyphs">440</text>
<line x1="985.5" y1="586.2" x2="1070" y2="586.2" stroke="#e67e14" stroke-width="1.7"/>
<polygon points="985.5,586.2 989.5,585.0 989.5,587.4" fill="#e67e14"/>
<polygon points="1070,586.2 1066.0,587.4 1066.0,585.0" fill="#e67e14"/>
<text x="1027.5" y="585.9000000000001" font-family="Liberation Sans, sans-serif" font-size="15.2" fill="#e67e14" text-anchor="middle" textLength="26.7" lengthAdjust="spacingAndGlyphs">500</text>
<line x1="659.3" y1="590" x2="659.3" y2="992.5" stroke="#e67e14" stroke-width="1.7"/>
<polygon points="659.3,590 660.5,594.0 658.1,594.0" fill="#e67e14"/>
<polygon points="659.3,992.5 658.1,988.5 660.5,988.5" fill="#e67e14"/>
<text x="658.3" y="791" font-family="Liberation Sans, sans-serif" font-size="15.2" fill="#e67e14" text-anchor="middle" textLength="39" lengthAdjust="spacingAndGlyphs" transform="rotate(-90 658.3 791)">2370</text>
<line x1="710.3" y1="593" x2="710.3" y2="989" stroke="#e67e14" stroke-width="1.7"/>
<polygon points="710.3,593 711.5,597.0 709.1,597.0" fill="#e67e14"/>
<polygon points="710.3,989 709.1,985.0 711.5,985.0" fill="#e67e14"/>
<text x="709.3" y="791" font-family="Liberation Sans, sans-serif" font-size="15.2" fill="#e67e14" text-anchor="middle" textLength="38" lengthAdjust="spacingAndGlyphs" transform="rotate(-90 709.3 791)">2350</text>
<line x1="1093.8" y1="958" x2="1093.8" y2="992.5" stroke="#e67e14" stroke-width="1.7"/>
<polygon points="1093.8,958 1095.0,962.0 1092.6,962.0" fill="#e67e14"/>
<polygon points="1093.8,992.5 1092.6,988.5 1095.0,988.5" fill="#e67e14"/>
<text x="1092.8" y="975" font-family="Liberation Sans, sans-serif" font-size="15.2" fill="#e67e14" text-anchor="middle" textLength="25" lengthAdjust="spacingAndGlyphs" transform="rotate(-90 1092.8 975)">200</text>
<text x="696" y="568" font-family="Liberation Sans, sans-serif" font-size="15.2" fill="#e67e14" text-anchor="middle" textLength="17" lengthAdjust="spacingAndGlyphs">20</text>
<line x1="687.3" y1="569.3" x2="704.5" y2="569.3" stroke="#e67e14" stroke-width="1.4"/>
<line x1="675.6" y1="575" x2="693" y2="575" stroke="#e67e14" stroke-width="1.4"/>
<line x1="685" y1="575" x2="688" y2="569.3" stroke="#e67e14" stroke-width="1.4"/>
<text x="1083" y="576" font-family="Liberation Sans, sans-serif" font-size="15.2" fill="#e67e14" text-anchor="middle" textLength="17" lengthAdjust="spacingAndGlyphs">20</text>
<line x1="1074" y1="577.3" x2="1091.5" y2="577.3" stroke="#e67e14" stroke-width="1.4"/>
<line x1="1062" y1="584" x2="1081" y2="584" stroke="#e67e14" stroke-width="1.4"/>
<line x1="1071" y1="584" x2="1074" y2="577.3" stroke="#e67e14" stroke-width="1.4"/>
<text x="667.3" y="580.5" font-family="Liberation Sans, sans-serif" font-size="15.2" fill="#e67e14" text-anchor="middle" textLength="14" lengthAdjust="spacingAndGlyphs" transform="rotate(-90 667.3 580.5)">10</text>
<line x1="668.6" y1="573.7" x2="668.6" y2="587.5" stroke="#e67e14" stroke-width="1.4"/>
<line x1="668.6" y1="587.5" x2="674" y2="590" stroke="#e67e14" stroke-width="1.4"/>
<line x1="674" y1="583.7" x2="674" y2="598.8" stroke="#e67e14" stroke-width="1.7"/>
<text x="669.5" y="982.3" font-family="Liberation Sans, sans-serif" font-size="15.2" fill="#e67e14" text-anchor="middle" textLength="14" lengthAdjust="spacingAndGlyphs" transform="rotate(-90 669.5 982.3)">10</text>
<line x1="670.3" y1="975.3" x2="670.3" y2="989" stroke="#e67e14" stroke-width="1.4"/>
<line x1="670.3" y1="989" x2="676.7" y2="991.5" stroke="#e67e14" stroke-width="1.4"/>
<line x1="676.7" y1="984" x2="676.7" y2="1000.7" stroke="#e67e14" stroke-width="1.7"/>
<text x="669.5" y="763.5" font-family="Liberation Sans, Noto Sans CJK SC, sans-serif" font-size="16" fill="#ffffff" text-anchor="middle" font-weight="350" transform="matrix(1 0 0 1.1 0 -76.35)">门</text>
<text x="669.5" y="786" font-family="Liberation Sans, Noto Sans CJK SC, sans-serif" font-size="16" fill="#ffffff" text-anchor="middle" font-weight="350" transform="matrix(1 0 0 1.1 0 -78.6)">板</text>
<text x="669.5" y="808.5" font-family="Liberation Sans, Noto Sans CJK SC, sans-serif" font-size="16" fill="#ffffff" text-anchor="middle" font-weight="350" transform="matrix(1 0 0 1.1 0 -80.85)">条</text>
<text x="1090" y="763.5" font-family="Liberation Sans, Noto Sans CJK SC, sans-serif" font-size="16" fill="#ffffff" text-anchor="middle" font-weight="350" transform="matrix(1 0 0 1.1 0 -76.35)">门</text>
<text x="1090" y="786" font-family="Liberation Sans, Noto Sans CJK SC, sans-serif" font-size="16" fill="#ffffff" text-anchor="middle" font-weight="350" transform="matrix(1 0 0 1.1 0 -78.6)">板</text>
<text x="1090" y="808.5" font-family="Liberation Sans, Noto Sans CJK SC, sans-serif" font-size="16" fill="#ffffff" text-anchor="middle" font-weight="350" transform="matrix(1 0 0 1.1 0 -80.85)">条</text>
<text x="701" y="790" font-family="Liberation Serif, Noto Serif CJK SC, serif" font-size="14.6" fill="#ffffff" text-anchor="start" font-weight="500" textLength="51" lengthAdjust="spacingAndGlyphs">D2021LX</text>
<text x="701" y="805.5" font-family="Liberation Serif, Noto Serif CJK SC, serif" font-size="14.4" fill="#ffffff" text-anchor="start" font-weight="600">反弹器</text>
<text x="771" y="790" font-family="Liberation Serif, Noto Serif CJK SC, serif" font-size="14.6" fill="#ffffff" text-anchor="start" font-weight="500" textLength="51" lengthAdjust="spacingAndGlyphs">D2021LX</text>
<text x="771" y="805.5" font-family="Liberation Serif, Noto Serif CJK SC, serif" font-size="14.4" fill="#ffffff" text-anchor="start" font-weight="600">反弹器</text>
<text x="849.5" y="790" font-family="Liberation Serif, Noto Serif CJK SC, serif" font-size="14.6" fill="#ffffff" text-anchor="start" font-weight="500" textLength="51" lengthAdjust="spacingAndGlyphs">D2021LX</text>
<text x="849.5" y="805.5" font-family="Liberation Serif, Noto Serif CJK SC, serif" font-size="14.4" fill="#ffffff" text-anchor="start" font-weight="600">反弹器</text>
<text x="926" y="790" font-family="Liberation Serif, Noto Serif CJK SC, serif" font-size="14.6" fill="#ffffff" text-anchor="start" font-weight="500" textLength="51" lengthAdjust="spacingAndGlyphs">D2021LX</text>
<text x="926" y="805.5" font-family="Liberation Serif, Noto Serif CJK SC, serif" font-size="14.4" fill="#ffffff" text-anchor="start" font-weight="600">反弹器</text>
<text x="995.5" y="790" font-family="Liberation Serif, Noto Serif CJK SC, serif" font-size="14.6" fill="#ffffff" text-anchor="start" font-weight="500" textLength="51" lengthAdjust="spacingAndGlyphs">D2021LX</text>
<text x="995.5" y="805.5" font-family="Liberation Serif, Noto Serif CJK SC, serif" font-size="14.4" fill="#ffffff" text-anchor="start" font-weight="600">反弹器</text>
<text x="1030.5" y="980.5" font-family="Liberation Sans, Noto Sans CJK SC, sans-serif" font-size="14.3" fill="#ffffff" text-anchor="middle" font-weight="350" transform="matrix(1 0 0 1.1 0 -98.05)">地包出入口</text>
</svg>
<div class="bar"></div>
</body>
</html>
